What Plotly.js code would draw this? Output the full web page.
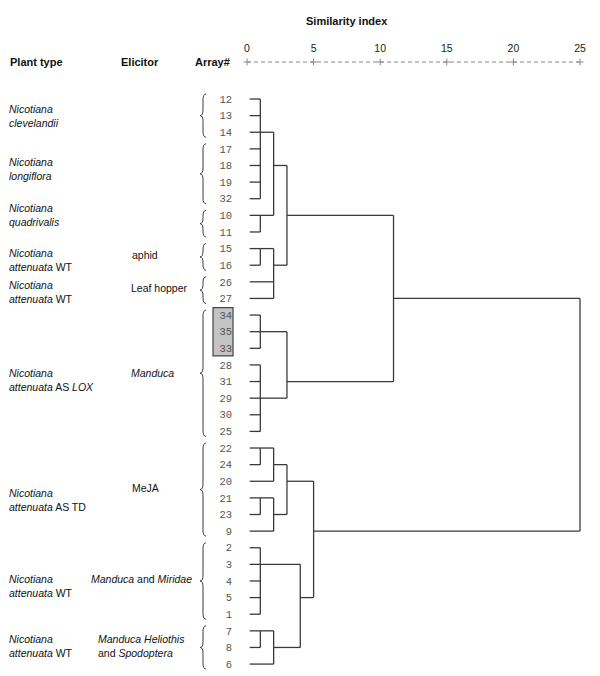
<!DOCTYPE html>
<html>
<head>
<meta charset="utf-8">
<script src="https://cdn.plot.ly/plotly-3.0.1.min.js"></script>
<style>
  html, body { margin: 0; padding: 0; background: #fff; }
  #chart { width: 600px; height: 676px; }
</style>
</head>
<body>
<div id="chart"></div>
<script>
// array numbers, top to bottom as they sit in the tree
const leafNames = ['12','13','14','17','18','19','32','10','11','15','16','26','27',
  '34','35','33','28','31','29','30','25','22','24','20','21','23','9',
  '2','3','4','5','1','7','8','6'];

// merges: members, rescaled distance, and the row the joining line leaves from
const clusterNames = ['A','B','C','D','E','F','G','H','I','J','K','L','M','N','O','P','Q','R','S','T','U'];
const clusterChildren = [
  ['12','13','14','17','18','19','32'], ['10','11'], ['A','B'], ['15','16'], ['D','26','27'], ['C','E'],
  ['34','35','33'], ['28','31','29','30','25'], ['G','H'], ['F','I'],
  ['22','24'], ['K','20'], ['21','23'], ['M','9'], ['L','N'],
  ['2','3','4','5','1'], ['7','8'], ['Q','6'], ['P','R'], ['O','S'], ['J','T']
];
const clusterHeights = [1, 1, 2, 1, 2, 3, 1, 1, 3, 11, 1, 2, 1, 2, 3, 1, 1, 2, 4, 5, 25];
const clusterRows = [2, 7, 4, 9, 10, 7, 14, 18, 17, 12, 21, 22, 24, 25, 23, 28, 32, 33, 30, 26, 19];
const leafStart = 0.2;
const highlighted = ['34', '35', '33'];

const scaleTicks = [0, 5, 10, 15, 20, 25];

// brace groups (first leaf, last leaf)
const braceGroups = [['12','14'], ['17','32'], ['10','11'], ['15','16'], ['26','27'],
  ['34','25'], ['22','9'], ['2','1'], ['7','6']];

const plantLabels = [
  '<i>Nicotiana</i><br><i>clevelandii</i>',
  '<i>Nicotiana</i><br><i>longiflora</i>',
  '<i>Nicotiana</i><br><i>quadrivalis</i>',
  '<i>Nicotiana</i><br><i>attenuata</i> WT',
  '<i>Nicotiana</i><br><i>attenuata</i> WT',
  '<i>Nicotiana</i><br><i>attenuata</i> AS <i>LOX</i>',
  '<i>Nicotiana</i><br><i>attenuata</i> AS TD',
  '<i>Nicotiana</i><br><i>attenuata</i> WT',
  '<i>Nicotiana</i><br><i>attenuata</i> WT'
];
const plantRows = [1.0, 4.2, 7.0, 9.7, 11.6, 16.9, 24.1, 29.3, 32.9];

const elicitorLabels = ['aphid', 'Leaf hopper', '<i>Manduca</i>', 'MeJA',
  '<i>Manduca</i> and <i>Miridae</i>', '<i>Manduca Heliothis</i><br>and <i>Spodoptera</i>'];
const elicitorRows = [9.4, 11.4, 16.5, 23.4, 28.9, 32.9];
const elicitorLeft = [130, 129, 129, 130, 89, 96];

// page geometry (pixels)
const W = 600, H = 676;
const zeroPx = 247, unitPx = 13.32;
const firstRowPx = 99, rowPx = 16.62;
const axisPx = 62;

const xRange = [-zeroPx / unitPx, (W - zeroPx) / unitPx];
const yRange = [(H - firstRowPx) / rowPx, -firstRowPx / rowPx];
const axisRow = (axisPx - firstRowPx) / rowPx;

const lineColor = '#3a3a3a';
const textFont = 'Liberation Sans, Arial, sans-serif';

// node positions
const nodeRow = {}, nodeHeight = {};
leafNames.forEach((n, i) => { nodeRow[n] = i; nodeHeight[n] = leafStart; });
clusterNames.forEach((n, i) => { nodeRow[n] = clusterRows[i]; nodeHeight[n] = clusterHeights[i]; });

const lx = [], ly = [];
clusterNames.forEach((n, i) => {
  const h = clusterHeights[i];
  const rows = clusterChildren[i].map(c => nodeRow[c]);
  lx.push(h, h, null);
  ly.push(Math.min(...rows), Math.max(...rows), null);
  clusterChildren[i].forEach(c => {
    lx.push(nodeHeight[c], h, null);
    ly.push(nodeRow[c], nodeRow[c], null);
  });
});

const treeTrace = {
  x: lx, y: ly, type: 'scatter', mode: 'lines',
  line: { color: lineColor, width: 1.3 },
  hoverinfo: 'skip', showlegend: false
};

const scaleLine = {
  x: [scaleTicks[0], scaleTicks[scaleTicks.length - 1]], y: [axisRow, axisRow],
  type: 'scatter', mode: 'lines',
  line: { color: '#8a8a8a', width: 1, dash: '4px,3px' },
  hoverinfo: 'skip', showlegend: false
};

const scaleMarks = {
  x: scaleTicks, y: scaleTicks.map(() => axisRow),
  type: 'scatter', mode: 'markers',
  marker: { symbol: 'cross-thin', size: 5, line: { color: '#8a8a8a', width: 1 } },
  hoverinfo: 'skip', showlegend: false
};

// braces drawn as paths in data space
const braceTip = (200 - zeroPx) / unitPx;
const braceBody = (203 - zeroPx) / unitPx;
const braceEnd = (206 - zeroPx) / unitPx;
const braceShapes = braceGroups.map(g => {
  const top = nodeRow[g[0]] - 0.3, bot = nodeRow[g[1]] + 0.3;
  const mid = (top + bot) / 2, r = 0.35;
  const path = `M ${braceEnd},${top} Q ${braceBody},${top} ${braceBody},${top + r} ` +
    `L ${braceBody},${mid - r} Q ${braceBody},${mid} ${braceTip},${mid} ` +
    `Q ${braceBody},${mid} ${braceBody},${mid + r} L ${braceBody},${bot - r} ` +
    `Q ${braceBody},${bot} ${braceEnd},${bot}`;
  return { type: 'path', xref: 'x', yref: 'y', path: path, line: { color: lineColor, width: 1 } };
});

const hlRows = highlighted.map(n => nodeRow[n]);
const boxShape = {
  type: 'rect', xref: 'x', yref: 'y', layer: 'below',
  x0: (213 - zeroPx) / unitPx, x1: (233 - zeroPx) / unitPx,
  y0: Math.min(...hlRows) - 0.45, y1: Math.max(...hlRows) + 0.45,
  fillcolor: '#c3c3c3', line: { color: '#444', width: 1.2 }
};

const annotations = [];
function header(text, px, align) {
  annotations.push({
    text: '<b>' + text + '</b>', xref: 'paper', yref: 'paper',
    x: px / W, y: 1 - axisPx / H, xanchor: align, yanchor: 'middle',
    showarrow: false, font: { family: textFont, size: 11, color: '#111' }
  });
}
header('Plant type', 8, 'left');
header('Elicitor', 119, 'left');
header('Array#', 232, 'right');

annotations.push({
  text: '<b>Similarity index</b>', xref: 'paper', yref: 'paper',
  x: 347 / W, y: 1 - 21 / H, xanchor: 'center', yanchor: 'middle',
  showarrow: false, font: { family: textFont, size: 11, color: '#111' }
});

plantLabels.forEach((t, i) => annotations.push({
  text: t, xref: 'paper', yref: 'y', x: 7 / W, y: plantRows[i],
  xanchor: 'left', yanchor: 'middle', align: 'left', showarrow: false,
  font: { family: textFont, size: 10.5, color: '#111' }
}));

elicitorLabels.forEach((t, i) => annotations.push({
  text: t, xref: 'paper', yref: 'y', x: elicitorLeft[i] / W, y: elicitorRows[i],
  xanchor: 'left', yanchor: 'middle', align: 'left', showarrow: false,
  font: { family: textFont, size: 10.5, color: '#111' }
}));

const layout = {
  width: W, height: H,
  margin: { l: 0, r: 0, t: 0, b: 0, pad: 0 },
  paper_bgcolor: '#fff', plot_bgcolor: '#fff',
  showlegend: false,
  xaxis: {
    range: xRange, side: 'top', anchor: 'free', position: 1 - axisPx / H,
    tickvals: scaleTicks, ticks: '', showline: false, showgrid: false, zeroline: false,
    ticklabelstandoff: 8,
    tickfont: { family: textFont, size: 10.5, color: '#222' },
    automargin: false, fixedrange: true
  },
  yaxis: {
    range: yRange, anchor: 'free', position: 232 / W, side: 'left',
    tickvals: leafNames.map((n, i) => i), ticktext: leafNames,
    ticks: '', showline: false, showgrid: false, zeroline: false,
    tickfont: { family: 'Liberation Mono, Courier New, monospace', size: 10.5, color: '#555' },
    automargin: false, fixedrange: true
  },
  shapes: [boxShape].concat(braceShapes),
  annotations: annotations
};

Plotly.newPlot('chart', [scaleLine, scaleMarks, treeTrace], layout, { staticPlot: true, displayModeBar: false });
</script>
</body>
</html>
